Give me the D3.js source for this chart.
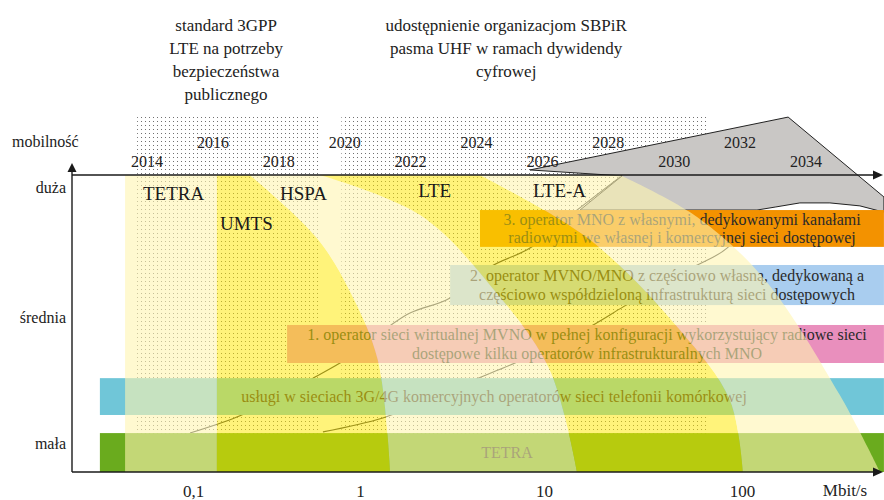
<!DOCTYPE html>
<html lang="pl">
<head>
<meta charset="UTF-8">
<title>Mobilność a przepływność</title>
<script src="https://d3js.org/d3.v7.min.js"></script>
<style>
  body { margin: 0; background: #fff; }
  svg { display: block; font-family: "Liberation Serif", "Times New Roman", serif; }
</style>
</head>
<body>
<svg id="chart"></svg>
<script>
// ---- data ----
const ticksX = [0.1, 1, 10, 100];
const tickLabelsX = ["0,1", "1", "10", "100"];
const mobilityLevels = ["mała", "średnia", "duża"];
const mobilityValues = [0.098, 0.522, 0.96];

const years = [2014, 2016, 2018, 2020, 2022, 2024, 2026, 2028, 2030, 2032, 2034];
const periods = [[2013.7, 2019.2], [2019.9, 2031.0]];
const periodTitleYears = [2016.4, 2024.9];
const periodTitles = [
  ["standard 3GPP", "LTE na potrzeby", "bezpieczeństwa", "publicznego"],
  ["udostępnienie organizacjom SBPiR", "pasma UHF w ramach dywidendy", "cyfrowej"]
];

// technology labels (Mbit/s, mobility)
const techNames = ["TETRA", "UMTS", "HSPA", "LTE", "LTE-A"];
const techLabelX = [0.0502, 0.145, 0.332, 2.07, 8.71];
const techLabelY = [0.916, 0.815, 0.916, 0.926, 0.926];

// edges of technology areas, [Mbit/s, mobility], top to bottom
const edges = [
  [[0.0392, 1], [0.0392, 0]],
  [[0.139, 1], [0.139, 0]],
  [[0.219, 1], [0.546, 0.791], [0.871, 0.609], [1.25, 0.377], [1.46, 0]],
  [[0.575, 1], [2.12, 0.865], [5.42, 0.609], [10.7, 0.343], [14.7, 0]],
  [[4.49, 1], [17.1, 0.781], [48.6, 0.478], [86.9, 0.242], [101, 0]],
  [[24.2, 1], [59.3, 0.859], [131, 0.646], [312, 0.259], [498, 0]]
];
const bandKinds = ["pale", "bright", "pale", "bright", "pale"];

// grey future area
const futureArea = [
  [8.39, 1.017], [171, 1.195], [521, 0.926], [521, 0.875], [394, 0.896],
  [278, 0.906], [196, 0.906], [147, 0.892], [119, 0.882], [15.2, 0.882], [24.8, 0.997]
];

// evolution lines
const evoLine1 = [[0.096, 0.131], [0.183, 0.185], [0.523, 0.316], [0.759, 0.367], [1.87, 0.535],
  [3.09, 0.586], [5.09, 0.690], [8.39, 0.754], [14.7, 0.882], [24.2, 0.993]];
const evoLine2 = [[0.600, 0.135], [1.33, 0.182], [4.38, 0.316], [6.96, 0.367], [17.7, 0.495],
  [25.1, 0.556], [56.6, 0.690], [84.0, 0.754], [123, 0.882]];

// operator boxes
const boxTexts = [
  ["TETRA"],
  ["usługi w sieciach 3G/4G komercyjnych operatorów sieci telefonii komórkowej"],
  ["1. operator sieci wirtualnej MVNO w pełnej konfiguracji wykorzystujący radiowe sieci",
   "dostępowe kilku operatorów infrastrukturalnych MNO"],
  ["2. operator MVNO/MNO z częściowo własną, dedykowaną a",
   "częściowo współdzieloną infrastrukturą sieci dostępowych"],
  ["3. operator MNO z własnymi, dedykowanymi kanałami",
   "radiowymi we własnej i komercyjnej sieci dostępowej"]
];
const boxFrom = [0.0277, 0.0277, 0.366, 3.09, 4.49];
const boxTo = [521, 521, 521, 521, 521];
const boxLow = [0, 0.192, 0.367, 0.562, 0.758];
const boxHigh = [0.131, 0.316, 0.495, 0.697, 0.882];
const boxTextX = [6.29, 5.35, 16.5, 41.8, 49.8];
const boxColors = ["#6aab1e", "#70c6d8", "#e98fbd", "#a9cdef", "#f39200"];

// ---- chart ----
const width = 884, height = 500;
const axisX0 = 72, axisEnd = 883;

const svg = d3.select("#chart").attr("width", width).attr("height", height);

const x = d3.scaleLog().domain([0.1, 1, 10, 100]).range([193, 360, 544, 742]);
const y = d3.scaleLinear().domain([0, 1]).range([472, 175]);
const yr = d3.scaleLinear().domain([2014, 2034]).range([147, 806]);

const defs = svg.append("defs");
const pat = defs.append("pattern")
  .attr("id", "dots")
  .attr("width", 4).attr("height", 4)
  .attr("patternUnits", "userSpaceOnUse");
pat.append("rect").attr("x", 1).attr("y", 1).attr("width", 1).attr("height", 1).attr("fill", "#707070");

// dotted periods
svg.selectAll(".period")
  .data(periods)
  .enter()
  .append("rect")
  .attr("class", "period")
  .attr("x", d => yr(d[0]))
  .attr("width", d => yr(d[1]) - yr(d[0]))
  .attr("y", y(1.2))
  .attr("height", y(0.007) - y(1.2))
  .attr("fill", "url(#dots)");

// period titles
periodTitles.forEach((lines, i) => {
  svg.append("text")
    .attr("text-anchor", "middle")
    .attr("font-size", 17)
    .attr("fill", "#222")
    .selectAll("tspan")
    .data(lines)
    .enter()
    .append("tspan")
    .attr("x", yr(periodTitleYears[i]))
    .attr("y", (d, j) => 31 + j * 23)
    .text(d => d);
});

const xy = d3.line().x(d => x(d[0])).y(d => y(d[1]));

// grey future area
svg.append("path")
  .attr("d", xy(futureArea) + "Z")
  .attr("fill", "#c9c7c5")
  .attr("stroke", "#222")
  .attr("stroke-width", 1);

// evolution lines
const evo = d3.line().x(d => x(d[0])).y(d => y(d[1])).curve(d3.curveMonotoneX);
[evoLine1, evoLine2].forEach(l => {
  svg.append("path")
    .attr("d", evo(l))
    .attr("fill", "none")
    .attr("stroke", "#333")
    .attr("stroke-width", 1.1);
});

// boxes
boxTexts.forEach((lines, i) => {
  svg.append("rect")
    .attr("x", x(boxFrom[i]))
    .attr("width", x(boxTo[i]) - x(boxFrom[i]))
    .attr("y", y(boxHigh[i]))
    .attr("height", y(boxLow[i]) - y(boxHigh[i]))
    .attr("fill", boxColors[i]);
  const mid = (y(boxLow[i]) + y(boxHigh[i])) / 2;
  const n = lines.length;
  svg.append("text")
    .attr("text-anchor", "middle")
    .attr("font-size", 16)
    .attr("fill", "#2a2a2a")
    .selectAll("tspan")
    .data(lines)
    .enter()
    .append("tspan")
    .attr("x", x(boxTextX[i]))
    .attr("y", (d, j) => mid + 5.5 + (j - (n - 1) / 2) * 18.5)
    .text(d => d);
});

// technology areas
const edgeLine = d3.line().x(d => x(d[0])).y(d => y(d[1])).curve(d3.curveCatmullRom);
bandKinds.forEach((kind, i) => {
  const a = edges[i], b = edges[i + 1].slice().reverse();
  const d = edgeLine(a) + "L" + edgeLine(b).slice(1) + "Z";
  svg.append("path")
    .attr("d", d)
    .attr("fill", kind === "pale" ? "#fff5b0" : "#ffe800")
    .attr("fill-opacity", kind === "pale" ? 0.6 : 0.52);
});

// axes lines
const axes = svg.append("g").attr("stroke", "#1a1a1a").attr("stroke-width", 1.4).attr("fill", "none");
axes.append("path").attr("d", `M${axisX0},${y(0)}H${axisEnd - 8}`);
axes.append("path").attr("d", `M${axisX0},${y(1)}H${axisEnd - 8}`);
axes.append("path").attr("d", `M${axisX0},${y(0)}V${y(1) - 5}`);
const heads = svg.append("g").attr("fill", "#1a1a1a");
[y(0), y(1)].forEach(v => {
  heads.append("path").attr("d", `M${axisEnd},${v}l-10,-4.5v9z`);
});
heads.append("path").attr("d", `M${axisX0},${y(1) - 12}l-4.5,9h9z`);

// x axis labels
const gx = svg.append("g")
  .attr("transform", `translate(0,${y(0)})`)
  .call(d3.axisBottom(x).tickValues(ticksX).tickFormat((d, i) => tickLabelsX[i]).tickSize(0).tickPadding(13));
gx.select(".domain").remove();
gx.attr("font-family", null).attr("font-size", 17);
gx.selectAll("text").attr("fill", "#222");

svg.append("text")
  .attr("x", 845).attr("y", 496)
  .attr("text-anchor", "middle")
  .attr("font-size", 17).attr("fill", "#222")
  .text("Mbit/s");

// y axis labels
const gy = svg.append("g")
  .attr("transform", `translate(${axisX0},0)`)
  .call(d3.axisLeft(y).tickValues(mobilityValues).tickFormat((d, i) => mobilityLevels[i]).tickSize(0).tickPadding(6));
gy.select(".domain").remove();
gy.attr("font-family", null).attr("font-size", 16);
gy.selectAll("text").attr("fill", "#222");

svg.append("text")
  .attr("x", 12).attr("y", 147)
  .attr("font-size", 16).attr("fill", "#222")
  .text("mobilność");

// years
svg.selectAll(".year")
  .data(years)
  .enter()
  .append("text")
  .attr("class", "year")
  .attr("x", d => yr(d))
  .attr("y", (d, i) => y(1) - (i % 2 === 0 ? 8 : 27))
  .attr("text-anchor", "middle")
  .attr("font-size", 16)
  .attr("fill", "#222")
  .text(d => d);

// technology labels
svg.selectAll(".tech")
  .data(techNames)
  .enter()
  .append("text")
  .attr("class", "tech")
  .attr("x", (d, i) => x(techLabelX[i]))
  .attr("y", (d, i) => y(techLabelY[i]))
  .attr("font-size", 19)
  .attr("fill", "#1a1a1a")
  .text(d => d);
</script>
</body>
</html>
